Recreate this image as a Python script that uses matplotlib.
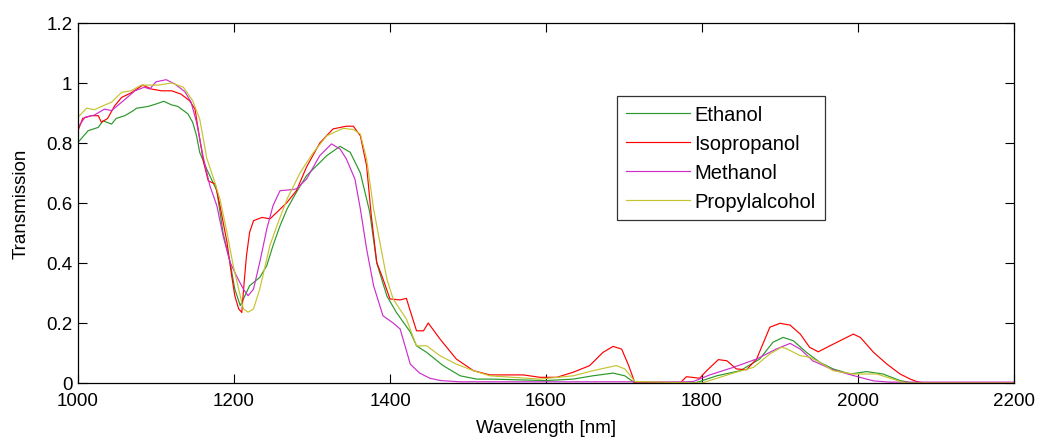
import matplotlib
matplotlib.use("Agg")
import matplotlib.pyplot as plt

plt.rcParams['font.family'] = ['Liberation Sans', 'DejaVu Sans']

eth_w = [1000,1013,1026,1032,1043,1049,1060,1071,1075,1090,1100,1110,1120,1128,1141,1147,1152,1156,1165,1178,1186,1195,1201,1208,1214,1220,1233,1242,1250,1259,1268,1280,1293,1319,1336,1349,1362,1374,1383,1396,1408,1426,1434,1447,1468,1490,1511,1530,1600,1635,1660,1686,1701,1714,1790,1797,1819,1849,1874,1891,1904,1917,1934,1951,1968,1990,2011,2032,2054,2070,2200]
eth_t = [0.802,0.841,0.852,0.874,0.863,0.882,0.891,0.908,0.916,0.922,0.93,0.939,0.927,0.922,0.897,0.869,0.824,0.769,0.713,0.641,0.50,0.402,0.313,0.258,0.291,0.324,0.352,0.391,0.458,0.524,0.58,0.636,0.691,0.758,0.789,0.769,0.70,0.57,0.40,0.29,0.236,0.17,0.124,0.102,0.058,0.024,0.013,0.013,0.008,0.013,0.024,0.033,0.024,0.0,0.0,0.005,0.024,0.041,0.08,0.136,0.152,0.141,0.102,0.069,0.047,0.030,0.038,0.03,0.008,0.0,0.0]

iso_w = [1000,1006,1017,1026,1030,1038,1047,1056,1068,1083,1094,1107,1120,1132,1143,1150,1154,1161,1167,1176,1182,1191,1197,1201,1206,1210,1213,1216,1220,1225,1236,1246,1255,1268,1280,1293,1310,1327,1344,1353,1362,1370,1376,1383,1391,1400,1413,1421,1426,1434,1443,1449,1464,1485,1507,1528,1571,1592,1614,1635,1656,1673,1686,1697,1706,1714,1772,1780,1797,1806,1821,1832,1844,1857,1870,1879,1887,1900,1913,1926,1938,1949,1964,1977,1994,2003,2020,2037,2054,2067,2075,2085,2200]
iso_t = [0.841,0.882,0.891,0.891,0.869,0.882,0.924,0.952,0.967,0.993,0.98,0.974,0.974,0.963,0.941,0.913,0.847,0.736,0.674,0.663,0.591,0.469,0.358,0.291,0.247,0.235,0.335,0.424,0.502,0.541,0.552,0.547,0.569,0.602,0.641,0.72,0.80,0.847,0.856,0.856,0.824,0.724,0.558,0.402,0.347,0.28,0.277,0.282,0.24,0.174,0.174,0.2,0.147,0.08,0.041,0.027,0.027,0.019,0.019,0.036,0.058,0.102,0.122,0.113,0.058,0.0,0.0,0.021,0.016,0.041,0.078,0.074,0.047,0.044,0.08,0.136,0.186,0.199,0.193,0.163,0.119,0.104,0.124,0.141,0.163,0.152,0.102,0.063,0.030,0.013,0.005,0.0,0.0]

met_w = [1000,1009,1021,1034,1043,1056,1073,1085,1092,1100,1113,1124,1137,1145,1152,1160,1169,1178,1186,1195,1203,1212,1218,1225,1233,1242,1250,1259,1272,1280,1293,1310,1325,1336,1344,1355,1362,1370,1379,1391,1404,1413,1426,1438,1451,1465,1490,1780,1789,1810,1840,1870,1895,1913,1926,1942,1968,1998,2020,2040,2200]
met_t = [0.852,0.886,0.893,0.913,0.908,0.936,0.974,0.986,0.98,1.004,1.011,0.997,0.971,0.936,0.869,0.76,0.658,0.591,0.491,0.402,0.358,0.313,0.291,0.313,0.402,0.513,0.591,0.641,0.644,0.647,0.68,0.758,0.797,0.78,0.747,0.68,0.58,0.447,0.324,0.224,0.2,0.18,0.063,0.033,0.016,0.008,0.004,0.004,0.005,0.027,0.052,0.08,0.113,0.132,0.113,0.074,0.044,0.022,0.007,0.003,0.003]

pro_w = [1000,1011,1021,1032,1043,1056,1068,1081,1103,1120,1135,1147,1156,1160,1165,1174,1182,1191,1199,1206,1212,1218,1225,1233,1246,1255,1268,1285,1302,1319,1340,1353,1362,1370,1379,1387,1396,1404,1421,1434,1447,1464,1485,1507,1528,1592,1635,1660,1690,1701,1714,1800,1840,1866,1887,1902,1908,1926,1938,1951,1968,1994,2024,2045,2060,2200]
pro_t = [0.886,0.916,0.911,0.924,0.936,0.969,0.974,0.993,0.993,1.0,0.986,0.941,0.88,0.824,0.75,0.68,0.613,0.502,0.391,0.313,0.247,0.236,0.247,0.313,0.458,0.524,0.613,0.702,0.769,0.824,0.849,0.845,0.83,0.747,0.58,0.469,0.347,0.28,0.213,0.124,0.124,0.091,0.063,0.041,0.024,0.013,0.024,0.041,0.058,0.047,0.005,0.0,0.033,0.052,0.097,0.119,0.115,0.091,0.086,0.069,0.041,0.03,0.03,0.013,0.0,0.0]

labels = ['Ethanol', 'Isopropanol', 'Methanol', 'Propylalcohol']
colors = ['#2a982a', '#ff0000', '#cc2ecc', '#c4c430']

x_ticks = [1000, 1200, 1400, 1600, 1800, 2000, 2200]
y_ticks = [0, 0.2, 0.4, 0.6, 0.8, 1.0, 1.2]
y_ticklabels = ['0', '0.2', '0.4', '0.6', '0.8', '1', '1.2']

fig = plt.figure(figsize=(10.37, 4.39), dpi=100)
ax = fig.add_axes([78/1037, 55/439, 936/1037, 360/439])

series = [(eth_w, eth_t), (iso_w, iso_t), (met_w, met_t), (pro_w, pro_t)]
for (w, t), lab, c in zip(series, labels, colors):
    ax.plot(w, t, color=c, lw=0.85, label=lab)

ax.set_xlim(1000, 2200)
ax.set_ylim(0, 1.2)
ax.set_xticks(x_ticks)
ax.set_yticks(y_ticks)
ax.set_yticklabels(y_ticklabels)
ax.tick_params(direction='in', top=True, right=True, length=6.5, width=0.8,
               labelsize=13.5)
ax.tick_params(axis='x', pad=6.5)
ax.tick_params(axis='y', pad=4)
for s in ax.spines.values():
    s.set_linewidth(0.9)
ax.set_xlabel('Wavelength [nm]', fontsize=13.5, labelpad=7)
ax.set_ylabel('Transmission', fontsize=13.5, labelpad=12)

leg = ax.legend(loc='upper left', bbox_to_anchor=(617/1037, 1 - 97/439),
                bbox_transform=fig.transFigure, fontsize=14.5, frameon=True,
                fancybox=False, edgecolor='black', handlelength=3.15,
                handletextpad=0.25, labelspacing=0.5, borderpad=0.45,
                borderaxespad=0)
leg.get_frame().set_linewidth(0.9)

fig.savefig('out.png', dpi=100)
